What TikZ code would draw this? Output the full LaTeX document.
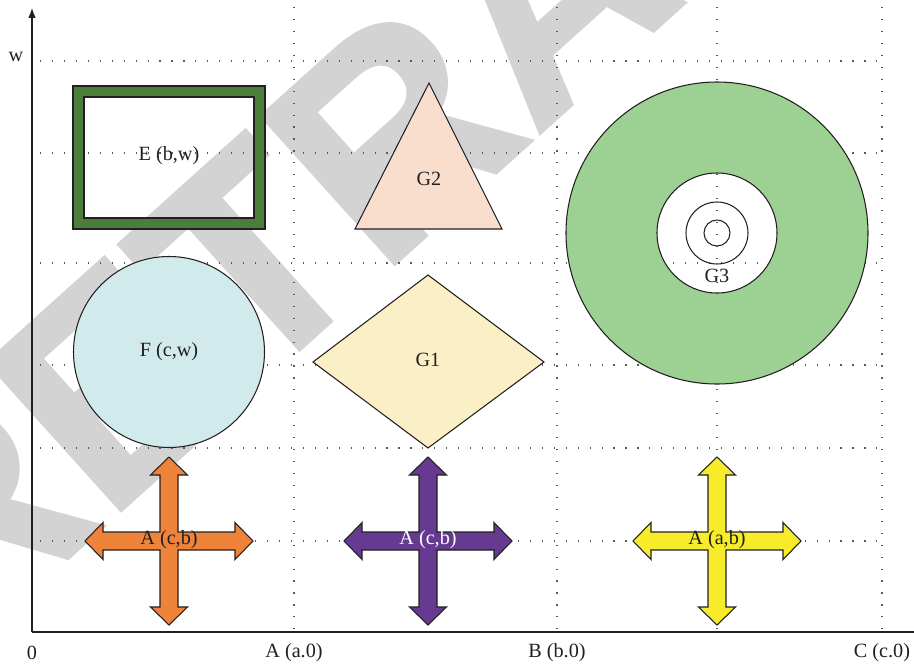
\documentclass[tikz,border=0pt]{standalone}
\usepackage{fontspec}
\setmainfont{Liberation Serif}
\newfontfamily\stampfont{Liberation Sans}[FakeBold=1.5]
\usetikzlibrary{arrows.meta}

\definecolor{stampgray}{HTML}{D3D3D3}
\definecolor{inkdark}{HTML}{231F20}
\definecolor{framegreen}{HTML}{4B7E3A}
\definecolor{discgreen}{HTML}{9DD093}
\definecolor{paleteal}{HTML}{D1EBEC}
\definecolor{peach}{HTML}{F9DECE}
\definecolor{cream}{HTML}{FBF0C5}
\definecolor{crossorange}{HTML}{F0833A}
\definecolor{crosspurple}{HTML}{663A91}
\definecolor{crossyellow}{HTML}{F7EC2A}

\tikzset{
  stamp/.style={font=\stampfont\bfseries\fontsize{164}{164}\selectfont,
    text=stampgray, inner sep=0pt},
  gridline/.style={draw=black!65, line width=0.65pt,
    dash pattern=on 0.65pt off 6.15pt},
  axisline/.style={draw=inkdark, line width=0.7pt},
  outline/.style={draw=inkdark, line width=0.6pt},
  lbl/.style={font=\fontsize{11.5}{13}\selectfont, text=inkdark, inner sep=1pt},
  fourarrow/.pic={
    \path[pic actions]
      (0,-84) -- (18.5,-66) -- (9,-66) -- (9,-9) -- (66,-9) -- (66,-18.5)
      -- (84,0) -- (66,18.5) -- (66,9) -- (9,9) -- (9,66) -- (18.5,66)
      -- (0,84) -- (-18.5,66) -- (-9,66) -- (-9,9) -- (-66,9) -- (-66,18.5)
      -- (-84,0) -- (-66,-18.5) -- (-66,-9) -- (-9,-9) -- (-9,-66)
      -- (-18.5,-66) -- cycle;
  }
}

\begin{document}
\begin{tikzpicture}[x=0.02cm, y=-0.02cm]
  \useasboundingbox (0,0) rectangle (914,667);
  \clip (0,0) rectangle (914,667);
  \fill[white] (0,0) rectangle (914,667);

  % diagonal stamp behind everything
  \node[stamp, rotate=42, anchor=base west] (stampword) at (-48,662) {RETRACTED};

  % dotted grid
  \foreach \yy in {61,153,263,365,448,541}
    \draw[gridline] (40,\yy) -- (882,\yy);
  \foreach \xx in {294,557,717,882}
    \draw[gridline] (\xx,7) -- (\xx,632);

  % axes
  \coordinate (origin) at (32,632);
  \coordinate (ytop) at (32,8);
  \coordinate (xend) at (926,632);
  \draw[axisline, -{Latex[length=5.6pt, width=4.2pt]}] (origin) -- (ytop);
  \draw[axisline, -{Latex[length=5.6pt, width=4.2pt]}] (origin) -- (xend);

  \node[lbl] (wlab) at (16,57) {w};
  \node[lbl] (zlab) at (32,653) {0};
  \node[lbl] (alab) at (294,653) {A (a.0)};
  \node[lbl] (blab) at (557,653) {B (b.0)};
  \node[lbl] (clab) at (882,653) {C (c.0)};

  % E: thick green frame
  \draw[outline, fill=framegreen, even odd rule]
    (73,86) rectangle (265,229) (84,97) rectangle (254,218);
  \node[lbl] (elab) at (169,156) {E (b,w)};

  % F: circle
  \draw[outline, fill=paleteal] (169,352) circle[radius=95.5];
  \node[lbl] (flab) at (169,352) {F (c,w)};

  % G2: triangle
  \draw[outline, fill=peach] (429,83) -- (502,229) -- (355,229) -- cycle;
  \node[lbl] (g2lab) at (429,179) {G2};

  % G1: diamond
  \draw[outline, fill=cream] (428,275) -- (544,362) -- (428,448) -- (313,362) -- cycle;
  \node[lbl] (g1lab) at (428,360) {G1};

  % G3: ring with inner circles
  \draw[outline, fill=discgreen, even odd rule]
    (717,233) circle[radius=151] (717,233) circle[radius=60];
  \draw[outline] (717,233) circle[radius=31];
  \draw[outline] (717,233) circle[radius=13];
  \node[lbl] (g3lab) at (717,276) {G3};

  % four-way arrows
  \pic[outline, fill=crossorange] at (169,541) {fourarrow};
  \node[lbl] (a1lab) at (169,540) {A (c,b)};
  \pic[outline, fill=crosspurple] at (428,541) {fourarrow};
  \node[lbl, text=white] (a2lab) at (428,540) {A (c,b)};
  \pic[outline, fill=crossyellow] at (717,541) {fourarrow};
  \node[lbl] (a3lab) at (717,540) {A (a,b)};
\end{tikzpicture}
\end{document}
